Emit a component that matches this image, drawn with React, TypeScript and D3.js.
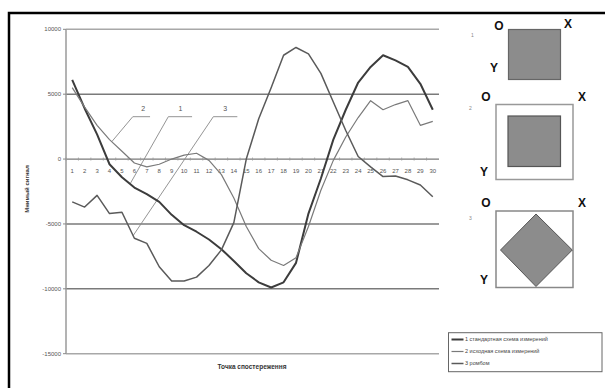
import React from "react";
import * as d3 from "d3";

const categories = d3.range(1, 31).map(String);
const series1 = [6100, 3900, 1900, -400, -1400, -2200, -2700, -3300, -4300, -5100, -5600, -6200, -6950, -7850, -8800, -9500, -9900, -9500, -8000, -4200, -1500, 1500, 3800, 5900, 7100, 8000, 7600, 7100, 5800, 3800];
const series2 = [5500, 4000, 2600, 1500, 600, -300, -600, -400, 0, 300, 450, -100, -1200, -3000, -5200, -6900, -7800, -8200, -7600, -5200, -2400, -100, 1700, 3200, 4500, 3800, 4200, 4500, 2600, 2900];
const series3 = [-3300, -3700, -2800, -4200, -4100, -6100, -6500, -8300, -9400, -9400, -9100, -8200, -7000, -4900, 0, 3100, 5500, 8000, 8600, 8100, 6600, 4400, 2200, 200, -600, -1350, -1300, -1600, -2000, -2900];
const yTicks = [10000, 5000, 0, -5000, -10000, -15000];
const legendLabels = ["1 стандартная схема измерений", "2 исходная схема измерений", "3 ромбом"];
const yTitle = "Мнимый сигнал";
const xTitle = "Точка спостереження";
const calloutLabels = ["2", "1", "3"];

export default function App() {
  const x = d3.scaleBand<string>().domain(categories).range([66, 439]);
  const y = d3.scaleLinear().domain([-15000, 10000]).range([353.7, 29.3]);
  const bw = x.bandwidth();
  const cx = (c: string) => (x(c) as number) + bw / 2;
  // fractional category position (1-based)
  const fx = (c: number) => 66 + (c - 0.5) * bw;
  const at = (s: number[], c: number) => {
    const i = Math.floor(c) - 1;
    const t = c - Math.floor(c);
    return s[i] + (s[i + 1] - s[i]) * t;
  };
  const line = d3
    .line<number>()
    .x((_, i) => cx(categories[i]))
    .y((d) => y(d));

  const seriesStyle = [
    { data: series1, color: "#3c3c3c", width: 2 },
    { data: series2, color: "#7a7a7a", width: 1.2 },
    { data: series3, color: "#5a5a5a", width: 1.5 },
  ];

  const callouts = [
    { label: calloutLabels[0], labelC: 6.7, elbowC: 5.87, endC: 7.26, s: series2, c: 4.18 },
    { label: calloutLabels[1], labelC: 9.7, elbowC: 8.73, endC: 10.64, s: series1, c: 5.65 },
    { label: calloutLabels[2], labelC: 13.3, elbowC: 12.35, endC: 14.28, s: series3, c: 5.9 },
  ];
  const calloutY = 116.7;

  const font = "'Liberation Sans', Arial, sans-serif";
  const letter = { fontFamily: font, fontWeight: 700, fontSize: 12, fill: "#111" } as const;
  const gray = "#8c8c8c";

  return (
    <svg width={605} height={388} style={{ position: "absolute", left: 0, top: 0, background: "#fff" }}>
      <rect x={0} y={0} width={605} height={388} fill="#fff" />
      {/* outer frame */}
      <rect x={9} y={13} width={620} height={400} fill="none" stroke="#000" strokeWidth={2.5} />

      {/* gridlines */}
      {yTicks.map((t) => (
        <line
          key={t}
          x1={66}
          x2={439}
          y1={y(t)}
          y2={y(t)}
          stroke={t === 10000 || t === -15000 ? "#a8a8a8" : "#7a7a7a"}
          strokeWidth={t === 0 ? 1.2 : 1.6}
        />
      ))}
      {/* y axis */}
      <line x1={66} x2={66} y1={29.3} y2={353.7} stroke="#9a9a9a" strokeWidth={1.5} />
      {yTicks.map((t) => (
        <g key={"yt" + t}>
          <line x1={63} x2={66} y1={y(t)} y2={y(t)} stroke="#888" strokeWidth={1} />
          <text x={61} y={y(t)} dy="0.35em" textAnchor="end" fontFamily={font} fontSize={6} fill="#555">
            {t}
          </text>
        </g>
      ))}
      {/* x axis ticks and labels */}
      {categories.map((c) => (
        <line key={"xt" + c} x1={x(c) as number} x2={x(c) as number} y1={y(0) - 1.5} y2={y(0) + 1.5} stroke="#999" strokeWidth={0.8} />
      ))}
      {categories.map((c) => (
        <text key={"xl" + c} x={cx(c)} y={172.5} textAnchor="middle" fontFamily={font} fontSize={6} fill="#555">
          {c}
        </text>
      ))}

      {/* callouts */}
      {callouts.map((co) => (
        <g key={co.label}>
          <text x={fx(co.labelC)} y={calloutY - 6} textAnchor="middle" fontFamily={font} fontSize={7} fill="#555">
            {co.label}
          </text>
          <polyline
            points={`${fx(co.endC)},${calloutY} ${fx(co.elbowC)},${calloutY} ${fx(co.c)},${y(at(co.s, co.c))}`}
            fill="none"
            stroke="#888"
            strokeWidth={0.9}
          />
        </g>
      ))}

      {/* series */}
      {seriesStyle.map((s, k) => (
        <path key={k} d={line(s.data) as string} fill="none" stroke={s.color} strokeWidth={s.width} strokeLinejoin="round" />
      ))}

      {/* axis titles */}
      <text transform="translate(29,189) rotate(-90)" textAnchor="middle" fontFamily={font} fontSize={6} fontWeight={700} fill="#333">
        {yTitle}
      </text>
      <text x={252} y={369} textAnchor="middle" fontFamily={font} fontSize={6.5} fontWeight={700} fill="#333">
        {xTitle}
      </text>

      {/* panel 1 */}
      <text x={471} y={37} fontFamily={font} fontSize={5} fill="#888">1</text>
      <rect x={508.5} y={29.5} width={52} height={50} fill={gray} stroke="#666" strokeWidth={1.2} />
      <text x={499} y={30} textAnchor="middle" style={letter}>O</text>
      <text x={568} y={28} textAnchor="middle" style={letter}>X</text>
      <text x={494} y={72} textAnchor="middle" style={letter}>Y</text>

      {/* panel 2 */}
      <text x={469} y={110} fontFamily={font} fontSize={5} fill="#888">2</text>
      <rect x={496} y={104.5} width={77} height={75} fill="#fff" stroke="#999" strokeWidth={1.5} />
      <rect x={508} y={116} width={52.5} height={50.5} fill={gray} stroke="#555" strokeWidth={1.2} />
      <text x={486} y={101} textAnchor="middle" style={letter}>O</text>
      <text x={582} y={101} textAnchor="middle" style={letter}>X</text>
      <text x={484} y={176} textAnchor="middle" style={letter}>Y</text>

      {/* panel 3 */}
      <text x={469} y={220} fontFamily={font} fontSize={5} fill="#888">3</text>
      <rect x={496} y={211} width={77} height={76.5} fill="#fff" stroke="#888" strokeWidth={1.5} />
      <polygon points="536,214 572.3,250 536,286.5 500.5,250" fill={gray} stroke="#555" strokeWidth={1} />
      <text x={486} y={207} textAnchor="middle" style={letter}>O</text>
      <text x={582} y={207} textAnchor="middle" style={letter}>X</text>
      <text x={484} y={284} textAnchor="middle" style={letter}>Y</text>

      {/* legend */}
      <rect x={448.5} y={332.7} width={153.5} height={39} fill="#fff" stroke="#666" strokeWidth={1} />
      {legendLabels.map((l, i) => (
        <g key={l}>
          <line
            x1={451.5}
            x2={463.5}
            y1={339.5 + i * 12}
            y2={339.5 + i * 12}
            stroke={seriesStyle[i].color}
            strokeWidth={seriesStyle[i].width}
          />
          <text x={465} y={339.5 + i * 12} dy="0.35em" fontFamily={font} fontSize={5.5} fill="#444">
            {l}
          </text>
        </g>
      ))}
    </svg>
  );
}
